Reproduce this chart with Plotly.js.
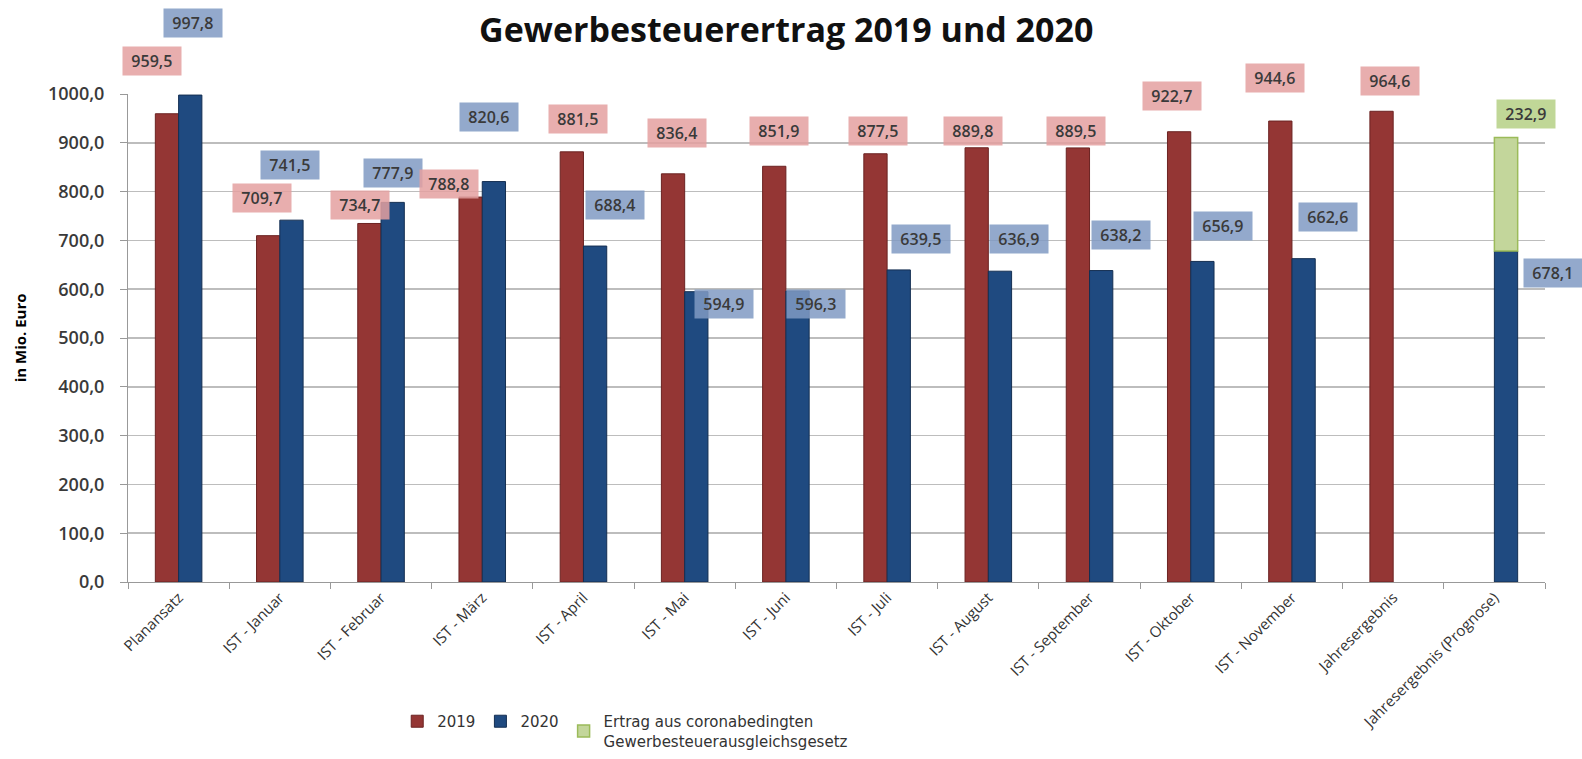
<!DOCTYPE html>
<html>
<head>
<meta charset="utf-8">
<script src="https://cdn.plot.ly/plotly-3.0.1.min.js"></script>
<style>html,body{margin:0;padding:0;background:#fff;}#chart{width:1582px;height:759px;}</style>
</head>
<body>
<div id="chart"></div>
<script>
const categories = ["Planansatz","IST - Januar","IST - Februar","IST - März","IST - April","IST - Mai","IST - Juni","IST - Juli","IST - August","IST - September","IST - Oktober","IST - November","Jahresergebnis","Jahresergebnis (Prognose)"];
const values2019 = [959.5,709.7,734.7,788.8,881.5,836.4,851.9,877.5,889.8,889.5,922.7,944.6,964.6,null];
const values2020 = [997.8,741.5,777.9,820.6,688.4,594.9,596.3,639.5,636.9,638.2,656.9,662.6,null,678.1];
const valuesCorona = [null,null,null,null,null,null,null,null,null,null,null,null,null,232.9];
const seriesNames = ["2019","2020","Ertrag aus coronabedingten<br>Gewerbesteuerausgleichsgesetz"];

// label offsets (px) relative to bar top
const off2019 = [[-15,-53],[-6,-38],[-9,-18],[-21,-13],[7,-33],[4,-41],[5,-35],[3,-23],[-3,-17],[-2,-17],[-7,-36],[-5,-43],[9,-30],null];
const off2020 = [[2,-72],[-2,-55],[0,-29],[-5,-65],[20,-41],[27,12],[18,13],[22,-31],[19,-32],[19,-36],[20,-35],[24,-42],null,[47,22]];
const offCorona = [20,-23];

const fmt = v => v.toFixed(1).replace('.', ',');
const FONT = '"Open Sans", "Noto Sans", sans-serif';

const red = '#943634', blue = '#1f4a80', green = '#c3d69b';
const traces = [
  {type:'bar', name:seriesNames[0], x:categories, y:values2019, offsetgroup:'a',
   marker:{color:red, line:{color:'#6b2322', width:1}}},
  {type:'bar', name:seriesNames[1], x:categories, y:values2020, offsetgroup:'b',
   marker:{color:blue, line:{color:'#142f52', width:1}}},
  {type:'bar', name:seriesNames[2], x:categories, y:valuesCorona, offsetgroup:'b',
   base:values2020.map((v,i)=> valuesCorona[i]==null?null:v),
   marker:{color:green, line:{color:'#9bbb59', width:1.5}}}
];

const annotations = [];
const lab = (x, y, txt, off, bg) => annotations.push({
  x:x, y:y, xref:'x', yref:'y', text:'\u2004' + txt + '\u2004', showarrow:false,
  xshift:off[0], yshift:-off[1], bgcolor:bg, borderpad:3,
  font:{family:FONT, size:16, weight:600, color:'#3a3a3a'}
});
categories.forEach((c,i)=>{
  if (values2019[i]!=null) lab(c, values2019[i], fmt(values2019[i]), [off2019[i][0]-12, off2019[i][1]], 'rgba(228,160,160,0.85)');
  if (values2020[i]!=null) lab(c, values2020[i], fmt(values2020[i]), [off2020[i][0]+12, off2020[i][1]], 'rgba(128,154,195,0.85)');
  if (valuesCorona[i]!=null) lab(c, values2020[i]+valuesCorona[i], fmt(valuesCorona[i]), [offCorona[0]+12, offCorona[1]], 'rgba(185,211,140,0.9)');
});
annotations.push({xref:'paper', yref:'paper', x:-0.076, xanchor:'center', y:0.5, text:'<b>in Mio. Euro</b>', textangle:-90, showarrow:false,
  font:{family:FONT, size:15, color:'#000'}});

const layout = {
  width:1582, height:759,
  margin:{l:128, r:37, t:94, b:177, autoexpand:false},
  paper_bgcolor:'#fff', plot_bgcolor:'#fff',
  separators:',.',
  title:{text:'<b>Gewerbesteuerertrag 2019 und 2020</b>', x:0.497, xanchor:'center', y:0.96, yanchor:'middle',
    font:{family:FONT, size:34, color:'#111'}},
  barmode:'group', bargap:0.54, bargroupgap:0,
  xaxis:{type:'category', range:[-0.5, 13.5], tickangle:-45, tickson:'boundaries', ticks:'outside', ticklen:6, tickcolor:'#999',
    showline:true, linecolor:'#999', showgrid:false, automargin:false,
    tickfont:{family:FONT, size:15, color:'#333'}},
  yaxis:{range:[0,1000], dtick:100, tickformat:'.1f', showgrid:true, gridcolor:'#bdbdbd', gridwidth:1.5, automargin:false,
    showline:true, linecolor:'#999', ticks:'outside', ticklen:7, tickcolor:'#999', zeroline:false, ticklabelstandoff:12,
    tickfont:{family:FONT, size:18, weight:600, color:'#3a3a3a'}},
  legend:{orientation:'h', x:0.19, xanchor:'left', y:-0.252, yanchor:'top', tracegroupgap:0,
    font:{family:'"DejaVu Sans", sans-serif', size:15, color:'#333'}, itemwidth:30, traceorder:'normal'},
  annotations:annotations,
  showlegend:true
};
Plotly.newPlot('chart', traces, layout, {displayModeBar:false, staticPlot:true});
</script>
</body>
</html>
